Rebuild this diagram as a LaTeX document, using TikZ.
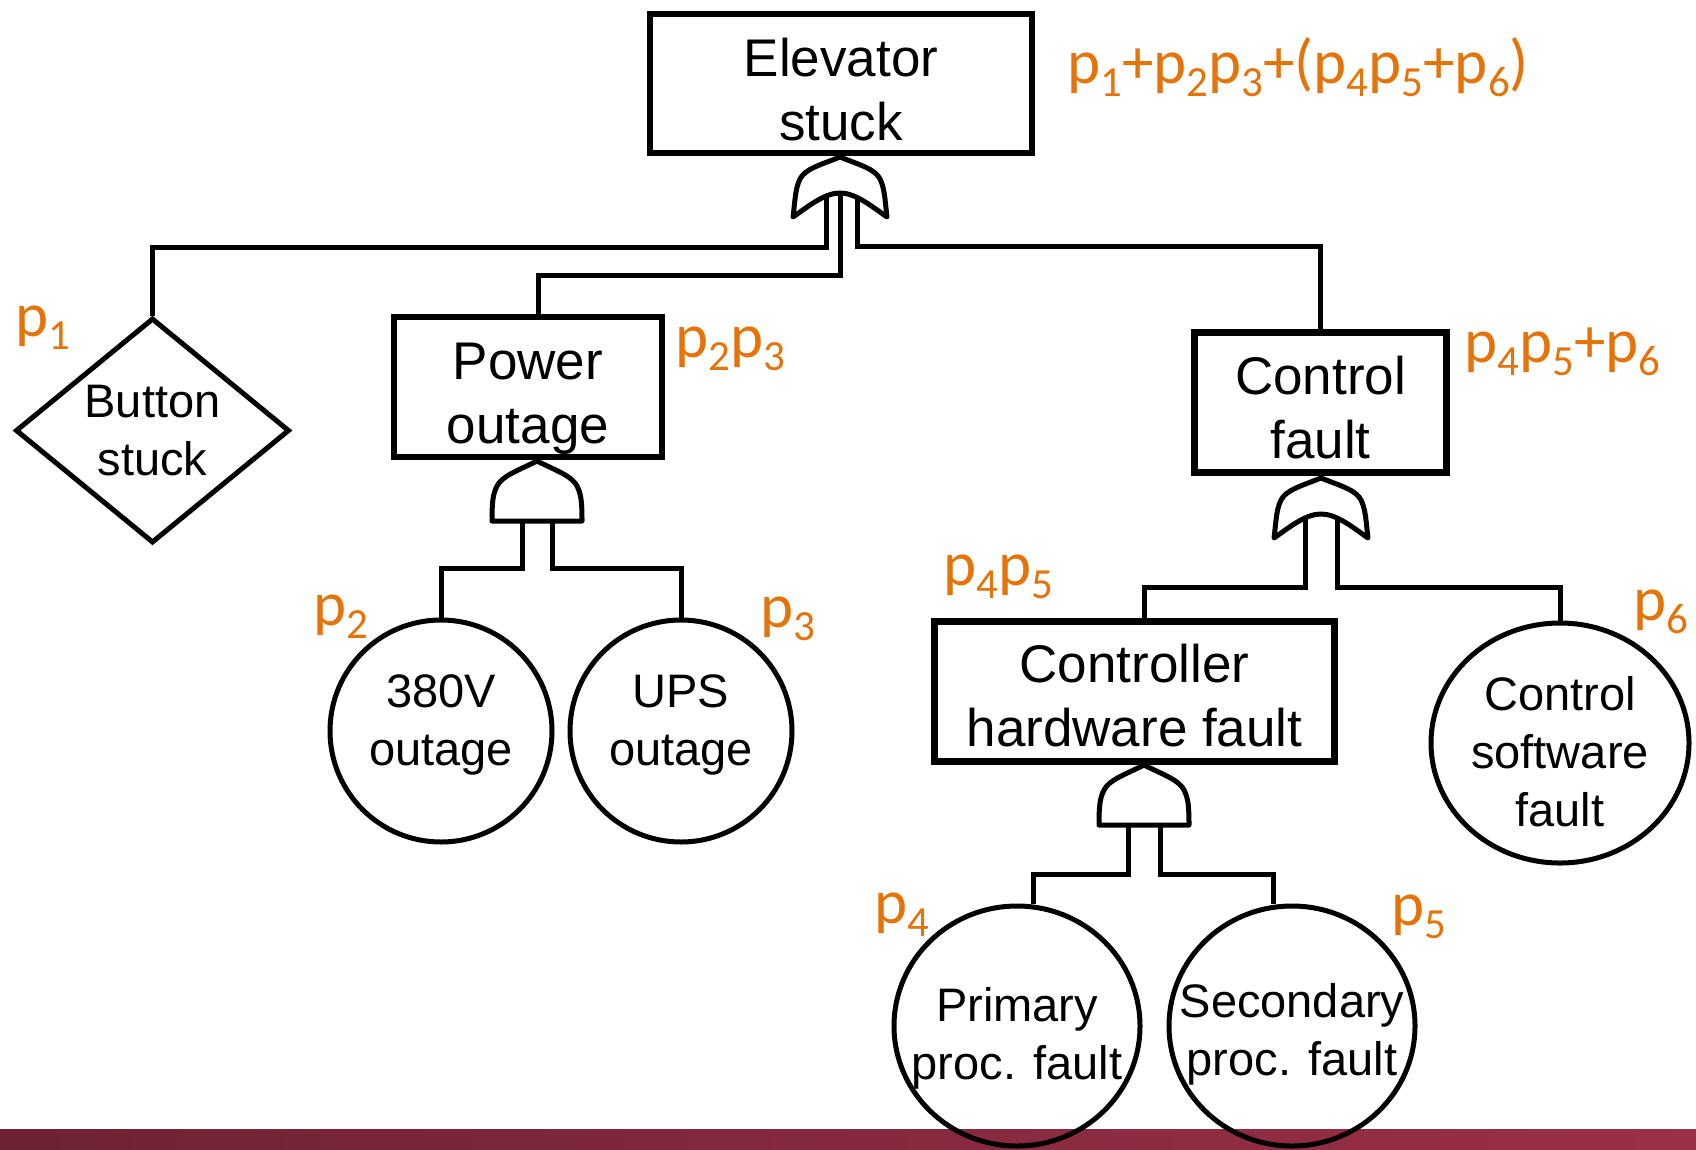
\documentclass[tikz,border=0pt]{standalone}
\usepackage{fontspec}
\setmainfont{Liberation Sans}
\newfontfamily\labfont{Carlito}
\usetikzlibrary{shapes.geometric}
\definecolor{lab}{RGB}{228,116,10}
\definecolor{barL}{RGB}{110,34,51}
\definecolor{barR}{RGB}{155,48,72}
\newcommand{\lbsub}[1]{\raisebox{-13pt}{\fontsize{43}{43}\selectfont #1}}
\newcommand{\hpad}[1]{\rule{0pt}{#1pt}}
\newcommand{\dpad}[1]{\rule[-#1pt]{0pt}{#1pt}}
\tikzset{
  box/.style={draw, line width=6.5pt, rectangle, inner sep=0pt, align=center,
     font=\fontsize{53}{64}\selectfont},
  evt/.style={draw, line width=5pt, circle, inner sep=-40pt, align=center,
     font=\fontsize{47}{58}\selectfont},
  diam/.style={draw, line width=5pt, diamond, inner sep=-15pt, align=center,
     font=\fontsize{47}{58}\selectfont},
  wire/.style={line width=5pt, line join=miter},
  gate/.style={draw, fill=white, line width=5pt, line join=round},
  prob/.style={text=lab, anchor=base west, inner sep=0pt,
     font=\labfont\fontsize{63}{70}\selectfont},
  orgate/.pic={\path[gate] (0,0) .. controls (-20,8) and (-35,12) .. (-40,22)
      .. controls (-45,32) and (-45,45) .. (-47,60)
      .. controls (-30,48) and (-15,36) .. (0,36)
      .. controls (15,36) and (30,48) .. (47,60)
      .. controls (45,45) and (45,32) .. (40,22)
      .. controls (35,12) and (20,8) .. (0,0) -- cycle;},
  andgate/.pic={\path[gate] (0,0) .. controls (-20,10) and (-35,15) .. (-40,25)
      .. controls (-44,33) and (-45,40) .. (-45,60) -- (45,60)
      .. controls (45,40) and (44,33) .. (40,25)
      .. controls (35,15) and (20,10) .. (0,0) -- cycle;}
}
\begin{document}
\begin{tikzpicture}[x=1pt,y=-1pt]
\useasboundingbox (0,0) rectangle (1696,1149);
% bottom bar
\fill[left color=barL, right color=barR] (0,1129) rectangle (1696,1149);

% events
\node[box, minimum width=382, minimum height=139] (elev) at (841,83.5) {\hpad{51}Elevator\\stuck};
\node[box, minimum width=268, minimum height=140] (power) at (528,387) {\hpad{60}Power\\outage};
\node[box, minimum width=252, minimum height=140] (control) at (1320.5,402.5) {\hpad{49}Control\\fault};
\node[box, minimum width=400, minimum height=140] (chw) at (1134.5,691.5) {\hpad{47}Controller\\hardware fault};
\node[diam, minimum width=274, minimum height=225] (button) at (152.5,430.5) {Button\\stuck};
\node[evt, minimum size=222] (v380) at (441,731) {380V\\outage\dpad{22}};
\node[evt, minimum size=222] (ups) at (681,731) {UPS\\outage\dpad{22}};
\node[evt, ellipse, minimum width=258, minimum height=240] (csw) at (1560,743) {\hpad{52}Control\\software\\fault};
\node[evt, ellipse, minimum width=246, minimum height=240] (prim) at (1017,1026) {\hpad{58}Primary\\proc. fault};
\node[evt, ellipse, minimum width=246, minimum height=240] (sec) at (1292,1026) {\hpad{51}Secondary\\proc. fault};

% gate input points
\coordinate (g1a) at (826,195);
\coordinate (g1b) at (840,195);
\coordinate (g1c) at (857,195);
\coordinate (g2a) at (522,500);
\coordinate (g2b) at (552,500);
\coordinate (g3a) at (1305,515);
\coordinate (g3b) at (1337,515);
\coordinate (g4a) at (1128,800);
\coordinate (g4b) at (1160,800);

% connectors
\draw[wire] (g1a) -- ++(0,52) -| (button.north);
\draw[wire] (g1b) -- ++(0,80) -| ([xshift=10]power.north);
\draw[wire] (g1c) -- ++(0,51) -| (control.north);
\draw[wire] (g2a) -- ++(0,68) -| (v380.north);
\draw[wire] (g2b) -- ++(0,68) -| (ups.north);
\draw[wire] (g3a) -- ++(0,72) -| ([xshift=10]chw.north);
\draw[wire] (g3b) -- ++(0,72) -| (csw.north);
\draw[wire] (g4a) -- ++(0,74) -| ([xshift=16]prim.north);
\draw[wire] (g4b) -- ++(0,74) -| ([xshift=-19]sec.north);

% gates
\pic at (840,157) {orgate};
\pic at (537,461) {andgate};
\pic at (1321,478) {orgate};
\pic at (1144,765) {andgate};

% probability labels
\node[prob] (f0) at (1067,83) {p\lbsub{1}+p\lbsub{2}p\lbsub{3}+(p\lbsub{4}p\lbsub{5}+p\lbsub{6})};
\node[prob] (f1) at (15,336) {p\lbsub{1}};
\node[prob] (f23) at (675,357) {p\lbsub{2}p\lbsub{3}};
\node[prob] (f456) at (1464,362) {p\lbsub{4}p\lbsub{5}+p\lbsub{6}};
\node[prob] (f45) at (943,585) {p\lbsub{4}p\lbsub{5}};
\node[prob] (f6) at (1633,620) {p\lbsub{6}};
\node[prob] (f2) at (313,625) {p\lbsub{2}};
\node[prob] (f3) at (760,627) {p\lbsub{3}};
\node[prob] (f4) at (874,923) {p\lbsub{4}};
\node[prob] (f5) at (1391,925) {p\lbsub{5}};
\end{tikzpicture}
\end{document}
